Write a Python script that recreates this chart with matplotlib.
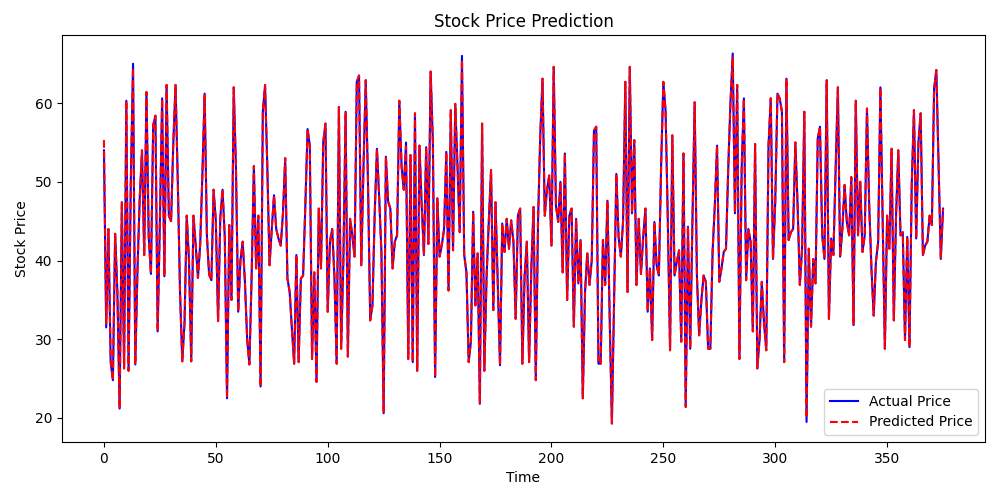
import matplotlib
matplotlib.use("Agg")
import matplotlib.pyplot as plt

actual = [
    54, 31.5, 44, 27, 24.8, 43.4, 36, 21.2, 47.4, 26.3,
    60.3, 26, 50, 65, 26.8, 39, 48, 54, 40.7, 61.4,
    43, 38.3, 57.2, 58.4, 31, 45, 60.6, 38, 62.3, 45.7,
    45, 55, 62.3, 50, 36, 27.2, 32, 45.7, 40, 27.2,
    45.7, 42, 37.8, 42, 51, 61.2, 43.2, 38.2, 37.5, 49,
    45, 32.3, 45.5, 49, 43, 22.5, 44.5, 35, 62, 51.7,
    33.5, 40, 42.4, 37.3, 30, 26.8, 38, 52, 39, 45.7,
    24, 58.9, 62.3, 52, 39.4, 44, 48.3, 44, 42.8, 41.9,
    46, 53, 37.7, 36, 31.3, 26.9, 40.7, 27.1, 37.7, 38.1,
    47, 56.7, 54.6, 27.5, 38.5, 24.6, 46.6, 39, 55, 57.4,
    33.5, 42.4, 44, 38, 26.9, 59.5, 28.8, 40, 58.9, 27.8,
    45.3, 43.2, 40.5, 62.7, 63.5, 39.4, 52, 62.9, 50, 32.4,
    34.3, 46, 54.2, 48, 41.1, 20.6, 53.2, 47.5, 46.6, 39,
    42.4, 43.2, 60.3, 52, 49, 55, 27.5, 53.4, 27.1, 58.7,
    26, 54.6, 47, 40.7, 54.4, 42.1, 64, 55, 25.2, 47.9,
    40.5, 42, 44, 53.8, 36.2, 59.1, 41.3, 59.9, 52, 43.6,
    66, 40.7, 38.5, 27.1, 29.7, 46.2, 34.3, 40.9, 21.8, 57.4,
    26, 38, 45, 51.5, 33.7, 47.4, 37, 26.7, 44.7, 41.1,
    45.3, 41.5, 45.1, 42.4, 32.6, 45.7, 46.6, 26.9, 38.1, 42.4,
    27.1, 39, 46.8, 24.8, 45, 56, 63.1, 45.7, 49, 50.8,
    41.9, 64.6, 47, 44.9, 50, 38.5, 53.6, 35, 45.7, 46.6,
    31.6, 45.3, 37.1, 42.6, 22.5, 36, 40.9, 36.9, 40, 56.5,
    57, 26.9, 26.9, 42.6, 36.9, 47.6, 33, 19.3, 35, 51,
    43, 40.5, 45, 62.7, 36, 64.6, 46, 55.3, 36.9, 45.3,
    38.3, 43, 46.6, 33.5, 39, 29.9, 44.9, 39.4, 38.1, 52,
    62.7, 59, 45, 28.6, 55.9, 38.1, 39.8, 41.3, 29.7, 53.6,
    21.4, 44.3, 28.8, 45, 60.1, 38.1, 30.5, 35, 38.1, 37.3,
    28.8, 28.8, 41.1, 47, 54.6, 37.3, 39, 41.1, 41.5, 51.7,
    60.1, 66.3, 46, 62.3, 27.5, 51.7, 60.6, 37.5, 44, 42.4,
    31, 54.8, 26.3, 30, 37.3, 32, 28.6, 54.6, 60.6, 40.2,
    47.4, 61.2, 60.6, 58.9, 27.1, 63.1, 42.6, 43.6, 44, 55,
    47, 36.9, 41.5, 58.9, 19.5, 41.5, 31.6, 40.2, 37.1, 55.5,
    57, 43.2, 40.2, 62.9, 32.6, 42.8, 40.7, 51.7, 62, 40.5,
    44, 49.6, 44.9, 43.2, 50.6, 31.8, 60.3, 43.2, 50, 41.1,
    43.2, 59.3, 47, 39, 33, 39.8, 42.4, 62, 45, 28.8,
    45.7, 41.5, 54.2, 32.4, 45.7, 54, 43.2, 43.6, 29.9, 43,
    29, 49.6, 59.1, 42.8, 55, 58.7, 40.7, 41.9, 42.4, 45.7,
    44.5, 61.8, 64.2, 52, 40.2, 46.6,
]

predicted = [
    55.3, 32, 44, 27.5, 24.8, 43.4, 36, 21.2, 47.4, 26.3,
    60.3, 26, 50, 64.5, 26.8, 39, 48, 54, 40.7, 61.4,
    43, 38.3, 57.2, 58.4, 31, 45, 60.6, 38, 62.3, 45.7,
    45, 55, 62.3, 50, 36, 27.2, 32, 45.7, 40, 27.2,
    45.7, 42, 37.8, 42, 51, 61.2, 43.2, 38.2, 37.5, 49,
    45, 32.3, 45.5, 49, 43, 22.5, 44.5, 35, 62, 51.7,
    33.5, 40, 42.4, 37.3, 30, 26.8, 38, 52, 39, 45.7,
    24, 58.9, 62.3, 52, 39.4, 44, 48.3, 44, 42.8, 41.9,
    46, 53, 37.7, 36, 31.3, 26.9, 40.7, 27.1, 37.7, 38.1,
    47, 56.7, 54.6, 27.5, 38.5, 24.6, 46.6, 39, 55, 57.4,
    33.5, 42.4, 44, 38, 26.9, 59.5, 28.8, 40, 58.9, 27.8,
    45.3, 43.2, 40.5, 62.7, 63.5, 39.4, 52, 62.9, 50, 32.4,
    34.3, 46, 54.2, 48, 41.1, 20.6, 53.2, 47.5, 46.6, 39,
    42.4, 43.2, 60.3, 52, 49, 54.5, 27.5, 53.4, 27.1, 58.7,
    26, 54.6, 47, 40.7, 54.4, 42.1, 64, 55, 25.2, 47.9,
    40.5, 42, 44, 53.8, 36.2, 59.1, 41.3, 59.9, 52, 43.6,
    65.5, 40.7, 38.5, 27.1, 29.7, 46.2, 34.3, 40.9, 21.8, 57.4,
    26, 38, 45, 51.5, 33.7, 47.4, 37, 26.7, 44.7, 41.1,
    45.3, 41.5, 45.1, 42.4, 32.6, 45.7, 46.6, 26.9, 38.1, 42.4,
    27.1, 39, 46.8, 24.8, 45, 56, 63.1, 45.7, 49, 50.8,
    41.9, 64.6, 47, 44.9, 50, 38.5, 53.6, 35, 45.7, 46.6,
    31.6, 45.3, 37.1, 42.6, 22.5, 36, 40.9, 36.9, 40, 56.5,
    57, 26.9, 26.9, 42.6, 36.9, 47.6, 33, 19.3, 35, 51,
    43, 40.5, 45, 62.7, 36, 64.6, 46, 55.3, 36.9, 45.3,
    38.3, 43, 46.6, 33.5, 39, 29.9, 44.9, 39.4, 38.1, 52,
    62.7, 59, 45, 28.6, 55.9, 38.1, 39.8, 41.3, 29.7, 53.6,
    21.4, 44.3, 28.8, 45, 60.1, 38.1, 30.5, 35, 38.1, 37.3,
    28.8, 28.8, 41.1, 47, 54.6, 37.3, 39, 41.1, 41.5, 51.7,
    60.1, 65.8, 46, 62.3, 27.5, 51.7, 60.6, 37.5, 44, 42.4,
    31, 54.8, 26.3, 30, 37.3, 32, 28.6, 54.6, 60.6, 40.2,
    47.4, 61.2, 60.6, 58.9, 27.1, 63.1, 42.6, 43.6, 44, 55,
    47, 36.9, 41.5, 58.9, 20, 41.5, 31.6, 40.2, 37.1, 55.5,
    57, 43.2, 40.2, 62.9, 32.6, 42.8, 40.7, 51.7, 62, 40.5,
    44, 49.6, 44.9, 43.2, 50.6, 31.8, 60.3, 43.2, 50, 41.1,
    43.2, 59.3, 47, 39, 33, 39.8, 42.4, 62, 45, 28.8,
    45.7, 41.5, 54.2, 32.4, 45.7, 54, 43.2, 43.6, 29.9, 43,
    29, 49.6, 59.1, 42.8, 55, 58.7, 40.7, 41.9, 42.4, 45.7,
    44.5, 61.8, 64.2, 52, 40.2, 46.6,
]

time = list(range(len(actual)))

fig, ax = plt.subplots(figsize=(10, 5), dpi=100)
fig.subplots_adjust(left=0.062, right=0.985, top=0.93, bottom=0.116)
ax.plot(time, actual, color="blue", linestyle="-", label="Actual Price")
ax.plot(time, predicted, color="red", linestyle="--", label="Predicted Price")
ax.set_title("Stock Price Prediction")
ax.set_xlabel("Time")
ax.set_ylabel("Stock Price")
ax.legend(loc="lower right")
fig.savefig("out.png")
